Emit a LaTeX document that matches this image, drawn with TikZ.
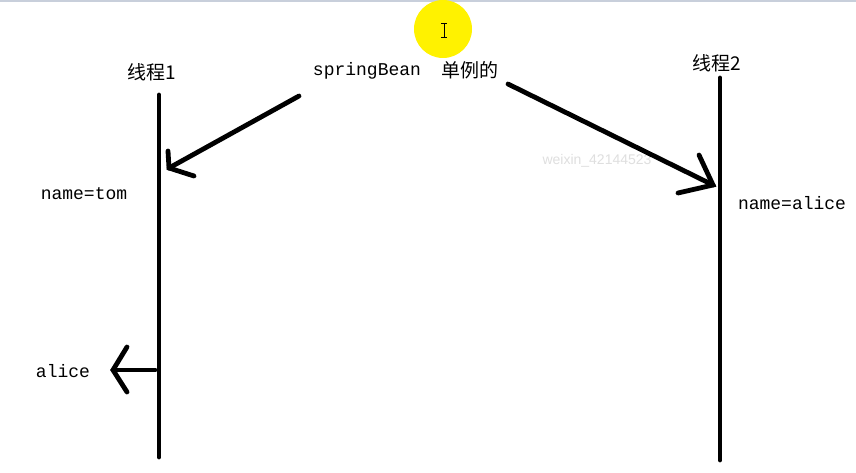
\documentclass[tikz,border=0pt]{standalone}
\usepackage{fontspec}
\setmonofont{Liberation Mono}
\newfontfamily\cjk{Noto Sans CJK SC}
\newfontfamily\wmfont{Liberation Sans}
\usepackage{tikz}
\usetikzlibrary{calc}
\usetikzlibrary{positioning}
\definecolor{topbar}{HTML}{C8CFDB}
\definecolor{hilite}{HTML}{FFF200}
\tikzstyle{stroke} = [line width = 4.8pt, line cap = round, black]
\tikzstyle{lbl} = [draw = none, inner sep = 1, font = \ttfamily\fontsize{18}{18}\selectfont]
\tikzstyle{cjklbl} = [draw = none, inner sep = 1, font = \cjk\fontsize{19}{19}\selectfont]

\begin{document}
\begin{tikzpicture}[x = 1pt, y = -1pt]
\useasboundingbox (0, 0) rectangle (856, 473);
\fill [white] (0, 0) rectangle (856, 473);
\fill [topbar] (0, 0) rectangle (856, 2.5);
% cursor highlight
\fill [hilite] (443, 29) circle (29);
\draw [black, line width = 0.8pt] (441, 23) -- (447, 23) (444, 23) -- (444, 37) (441, 37) -- (447, 37);
% labels
\node [cjklbl] (T1) at (152, 72) {线程1};
\node [cjklbl] (T2) at (717, 63) {线程2};
\node [lbl] (bean) at (367, 71) {springBean};
\node [cjklbl] (single) at (470, 70) {单例的};
\node [lbl] (tom) at (84, 194) {name=tom};
\node [lbl] (alice2) at (792, 203) {name=alice};
\node [lbl] (alice1) at (63, 371) {alice};
\node [draw = none, text = gray!25, font = \wmfont\fontsize{14}{14}\selectfont] (wm) at (597, 161) {weixin\_42144523};
% thread lines
\coordinate (L1top) at (159, 95);
\coordinate (L1bot) at (159, 457);
\coordinate (L2top) at (720, 78);
\coordinate (L2bot) at (720, 460);
\draw [stroke] (L1top) -- (L1bot);
\draw [stroke] (L2top) -- (L2bot);
% arrow from springBean to thread 1
\coordinate (s1) at (299, 96);
\coordinate (h1) at (169, 168);
\draw [stroke] (s1) -- (h1);
\draw [stroke] (168, 151) -- (h1) -- (194, 176);
% arrow from 单例的 to thread 2
\coordinate (s2) at (508, 84);
\coordinate (h2) at (713, 185);
\draw [stroke] (s2) -- (h2);
\draw [stroke] (699, 155) -- (h2) -- (678, 193);
% arrow out of thread 1
\coordinate (s3) at (155, 370);
\coordinate (h3) at (113, 370);
\draw [stroke] (s3) -- (h3);
\draw [stroke] (127, 347) -- (h3) -- (127, 392);
\end{tikzpicture}
\end{document}
